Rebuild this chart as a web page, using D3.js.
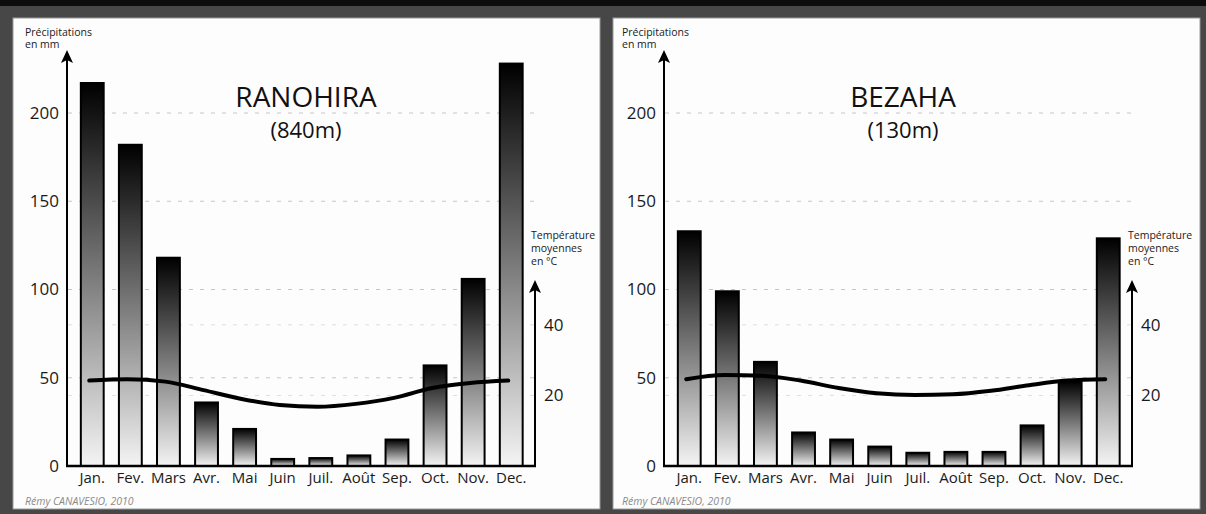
<!DOCTYPE html>
<html>
<head>
<meta charset="utf-8">
<script src="https://cdn.jsdelivr.net/npm/d3@7"></script>
<style>
  body { margin: 0; background: #474747; }
  svg { display: block; font-family: "Open Sans", sans-serif; }
</style>
</head>
<body>
<svg id="chart" width="1206" height="514"></svg>
<script>
var months = ["Jan.", "Fev.", "Mars", "Avr.", "Mai", "Juin", "Juil.", "Août", "Sep.", "Oct.", "Nov.", "Dec."];
var rainTicks = [0, 50, 100, 150, 200];
var tempTicks = [20, 40];

var ranohiraRain = [217, 182, 118, 36, 21, 4, 4.5, 6, 15, 57, 106, 228];
var ranohiraTemp = [24.2, 24.6, 23.9, 21.5, 19.0, 17.3, 16.8, 17.6, 19.3, 22.1, 23.5, 24.2];

var bezahaRain = [133, 99, 59, 19, 15, 11, 7.5, 8, 8, 23, 48, 129];
var bezahaTemp = [24.6, 25.8, 25.6, 24.2, 22.1, 20.6, 20.1, 20.3, 21.3, 22.9, 24.2, 24.6];

var svg = d3.select("#chart");

// dark frame
svg.append("rect").attr("width", 1206).attr("height", 514).attr("fill", "#474747");
svg.append("rect").attr("width", 1206).attr("height", 6).attr("fill", "#0c0c0c");

// bar gradient
var grad = svg.append("defs").append("linearGradient")
    .attr("id", "barGrad")
    .attr("x1", 0).attr("y1", 0).attr("x2", 0).attr("y2", 1);
grad.append("stop").attr("offset", "0%").attr("stop-color", "#000");
grad.append("stop").attr("offset", "100%").attr("stop-color", "#f4f4f4");

// shared scales (P = 2T)
var x = d3.scaleBand()
    .domain(months)
    .range([67.5, 536])
    .paddingInner(0.4)
    .paddingOuter(0.35);
var y = d3.scaleLinear().domain([0, 200]).range([466, 113]);
var t = d3.scaleLinear().domain([0, 100]).range([466, 113]);

function arrow(g, px, py) {
  g.append("path")
    .attr("d", "M0,0 L-6,13 L0,10 L6,13 Z")
    .attr("transform", "translate(" + px + "," + py + ")")
    .attr("fill", "#000");
}

function drawPanel(offset, boxX, name, alt, rain, temp) {
  svg.append("rect")
      .attr("x", boxX).attr("y", 18)
      .attr("width", 587).attr("height", 491)
      .attr("fill", "#fdfdfd")
      .attr("stroke", "#9a9a9a");

  var g = svg.append("g").attr("transform", "translate(" + offset + ",0)");

  // gridlines
  g.selectAll(".grid")
      .data(rainTicks.slice(1))
    .enter().append("line")
      .attr("x1", 68).attr("x2", 534)
      .attr("y1", function(d) { return y(d); })
      .attr("y2", function(d) { return y(d); })
      .attr("stroke", "#c6c6c6")
      .attr("stroke-dasharray", "4,7");
  g.selectAll(".tgrid")
      .data(tempTicks)
    .enter().append("line")
      .attr("x1", 68).attr("x2", 534)
      .attr("y1", function(d) { return t(d); })
      .attr("y2", function(d) { return t(d); })
      .attr("stroke", "#dedede")
      .attr("stroke-dasharray", "4,7");

  // bars
  g.selectAll(".bar")
      .data(rain)
    .enter().append("rect")
      .attr("x", function(d, i) { return x(months[i]); })
      .attr("width", x.bandwidth())
      .attr("y", function(d) { return y(d); })
      .attr("height", function(d) { return y(0) - y(d); })
      .attr("fill", "url(#barGrad)")
      .attr("stroke", "#000")
      .attr("stroke-width", 2);

  // temperature curve
  var line = d3.line()
      .x(function(d, i) { return x(months[i]) + x.bandwidth() / 2 - 3; })
      .y(function(d) { return t(d); })
      .curve(d3.curveMonotoneX);
  g.append("path")
      .datum(temp)
      .attr("d", line)
      .attr("fill", "none")
      .attr("stroke", "#000")
      .attr("stroke-width", 4)
      .attr("stroke-linecap", "round");

  // axes
  var ax = g.append("g").attr("transform", "translate(67,0)")
      .call(d3.axisLeft(y).tickValues(rainTicks).tickSize(0).tickPadding(8));
  ax.select(".domain").remove();
  ax.selectAll("text").attr("font-size", 17).attr("fill", "#1a1a1a")
      .attr("font-family", "Open Sans, sans-serif");

  var at = g.append("g").attr("transform", "translate(535,0)")
      .call(d3.axisRight(t).tickValues(tempTicks).tickSize(0).tickPadding(9));
  at.select(".domain").remove();
  at.selectAll("text").attr("font-size", 17).attr("fill", "#1a1a1a")
      .attr("font-family", "Open Sans, sans-serif");

  var axb = g.append("g").attr("transform", "translate(0,466)")
      .call(d3.axisBottom(x).tickSize(0).tickPadding(6));
  axb.select(".domain").remove();
  axb.selectAll("text").attr("font-size", 15).attr("fill", "#1a1a1a")
      .attr("font-family", "Open Sans, sans-serif");

  g.append("line").attr("x1", 67).attr("x2", 67).attr("y1", 467).attr("y2", 55)
      .attr("stroke", "#000").attr("stroke-width", 2);
  arrow(g, 67, 50);
  g.append("line").attr("x1", 535).attr("x2", 535).attr("y1", 467).attr("y2", 285)
      .attr("stroke", "#000").attr("stroke-width", 2);
  arrow(g, 535, 280);
  g.append("line").attr("x1", 66).attr("x2", 536).attr("y1", 466).attr("y2", 466)
      .attr("stroke", "#000").attr("stroke-width", 2.5);

  // axis titles
  var pl = g.append("text").attr("x", 25).attr("y", 36)
      .attr("font-size", 10.5).attr("fill", "#1a1a1a");
  pl.append("tspan").attr("x", 25).text("Précipitations");
  pl.append("tspan").attr("x", 25).attr("dy", 12).text("en mm");

  var tl = g.append("text").attr("x", 531).attr("y", 239)
      .attr("font-size", 10.5).attr("fill", "#1a1a1a");
  tl.append("tspan").attr("x", 531).text("Température");
  tl.append("tspan").attr("x", 531).attr("dy", 13).text("moyennes");
  tl.append("tspan").attr("x", 531).attr("dy", 13).text("en °C");

  // station title
  g.append("text").attr("x", 306).attr("y", 107)
      .attr("text-anchor", "middle").attr("font-size", 28).attr("fill", "#111")
      .text(name);
  g.append("text").attr("x", 306).attr("y", 138)
      .attr("text-anchor", "middle").attr("font-size", 22).attr("fill", "#111")
      .text(alt);

  // credit
  g.append("text").attr("x", 25).attr("y", 505)
      .attr("font-size", 10.5).attr("font-style", "italic").attr("fill", "#8a8a8a")
      .text("Rémy CANAVESIO, 2010");
}

drawPanel(0, 13, "RANOHIRA", "(840m)", ranohiraRain, ranohiraTemp);
drawPanel(597, 613, "BEZAHA", "(130m)", bezahaRain, bezahaTemp);
</script>
</body>
</html>
